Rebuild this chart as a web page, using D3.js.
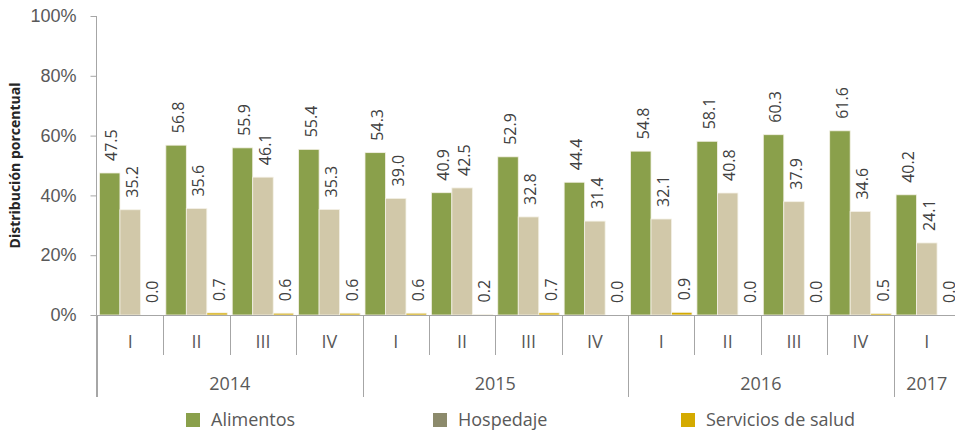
<!DOCTYPE html>
<html>
<head>
<meta charset="utf-8">
<script src="https://cdn.jsdelivr.net/npm/d3@7"></script>
<style>
  html, body { margin: 0; padding: 0; background: #ffffff; }
  svg { display: block; font-family: "Open Sans", "Noto Sans", sans-serif; }
</style>
</head>
<body>
<svg id="chart" width="955" height="430"></svg>
<script>
const quarters = ["I","II","III","IV","I","II","III","IV","I","II","III","IV","I"];
const years = ["2014","2014","2014","2014","2015","2015","2015","2015","2016","2016","2016","2016","2017"];
const seriesNames = ["Alimentos","Hospedaje","Servicios de salud"];
const alimentos = [47.5,56.8,55.9,55.4,54.3,40.9,52.9,44.4,54.8,58.1,60.3,61.6,40.2];
const hospedaje = [35.2,35.6,46.1,35.3,39.0,42.5,32.8,31.4,32.1,40.8,37.9,34.6,24.1];
const salud = [0.0,0.7,0.6,0.6,0.6,0.2,0.7,0.0,0.9,0.0,0.0,0.5,0.0];
const yTicks = [0,20,40,60,80,100];

(function () {
const barColors = ["#8aa04b","#d1c8a9","#d4aa00"];
const legendColors = ["#8aa04b","#8c8a6c","#d4aa00"];
const values = [alimentos, hospedaje, salud];

const svg = d3.select("#chart");
const pLeft = 97, pRight = 960, pTop = 16, pBottom = 315;
const idx = d3.range(quarters.length);

const x0 = d3.scaleBand().domain(idx).range([pLeft, pRight]).paddingInner(0).paddingOuter(0);
const x1 = d3.scaleBand().domain(d3.range(3)).range([0, x0.bandwidth()]).paddingInner(0).paddingOuter(0.12);
const y = d3.scaleLinear().domain([0,100]).range([pBottom, pTop]);

const axisColor = "#a6a6a6";
const textColor = "#595959";

// Y axis
const yAxis = svg.append("g").attr("transform", `translate(${pLeft - 0.5},0)`)
  .call(d3.axisLeft(y).tickValues(yTicks).tickSize(6).tickFormat(d => d + "%"));
yAxis.select(".domain").remove();
yAxis.selectAll(".tick line").attr("stroke", axisColor);
yAxis.selectAll(".tick text").attr("fill", textColor).attr("font-size", 18).attr("x", -20);

svg.append("line").attr("x1", pLeft - 0.5).attr("x2", pLeft - 0.5).attr("y1", pTop).attr("y2", 397)
  .attr("stroke", axisColor).attr("stroke-width", 1);

// bars
const groups = svg.append("g").selectAll("g").data(idx).join("g")
  .attr("transform", i => `translate(${x0(i)},0)`);
groups.selectAll("rect").data(i => values.map((v, s) => ({s, v: v[i]}))).join("rect")
  .attr("x", d => x1(d.s))
  .attr("width", x1.bandwidth())
  .attr("y", d => y(d.v))
  .attr("height", d => pBottom - y(d.v))
  .attr("fill", d => barColors[d.s])
  .attr("stroke", d => d.v > 0 ? "#f4f1e6" : "none")
  .attr("stroke-width", 0.8);

// data labels
groups.selectAll("text").data(i => values.map((v, s) => ({s, v: v[i]}))).join("text")
  .attr("transform", d => `translate(${x1(d.s) + x1.bandwidth()/2 + 3.5},${y(d.v) - 12}) rotate(-90)`)
  .attr("text-anchor", "start")
  .attr("dominant-baseline", "middle")
  .attr("fill", "#404040")
  .attr("font-size", 16)
  .text(d => d.v.toFixed(1));

// x axis baseline
svg.append("line").attr("x1", pLeft).attr("x2", pRight).attr("y1", pBottom + 0.5).attr("y2", pBottom + 0.5)
  .attr("stroke", axisColor);

// separators
const bounds = d3.range(quarters.length + 1).map(i => i < quarters.length ? x0(i) : pRight);
bounds.forEach((b, i) => {
  const isYear = i === 0 || i === quarters.length || years[i] !== years[i-1];
  svg.append("line").attr("x1", Math.round(b) + 0.5).attr("x2", Math.round(b) + 0.5)
    .attr("y1", pBottom).attr("y2", isYear ? 397 : 355)
    .attr("stroke", axisColor);
});

// quarter labels
svg.append("g").selectAll("text").data(idx).join("text")
  .attr("x", i => x0(i) + x0.bandwidth()/2)
  .attr("y", 343)
  .attr("text-anchor", "middle").attr("dominant-baseline", "middle")
  .attr("fill", textColor).attr("font-size", 18)
  .text(i => quarters[i]);

// year labels
const yearList = Array.from(new Set(years));
yearList.forEach(yr => {
  const ids = idx.filter(i => years[i] === yr);
  const cx = (x0(ids[0]) + x0(ids[ids.length-1]) + x0.bandwidth()) / 2;
  svg.append("text").attr("x", cx).attr("y", 385)
    .attr("text-anchor", "middle").attr("dominant-baseline", "middle")
    .attr("fill", textColor).attr("font-size", 18)
    .text(yr);
});

// y title
svg.append("text")
  .attr("transform", `translate(16,${(pTop + pBottom)/2}) rotate(-90)`)
  .attr("text-anchor", "middle").attr("dominant-baseline", "middle")
  .attr("font-weight", "bold").attr("font-size", 14).attr("fill", "#262626")
  .text("Distribución porcentual");

// legend
const legendX = [186, 433, 681];
seriesNames.forEach((name, s) => {
  svg.append("rect").attr("x", legendX[s]).attr("y", 413).attr("width", 14).attr("height", 14)
    .attr("fill", legendColors[s]);
  svg.append("text").attr("x", legendX[s] + 25).attr("y", 421)
    .attr("dominant-baseline", "middle")
    .attr("fill", textColor).attr("font-size", 18)
    .text(name);
});
})();
</script>
</body>
</html>
